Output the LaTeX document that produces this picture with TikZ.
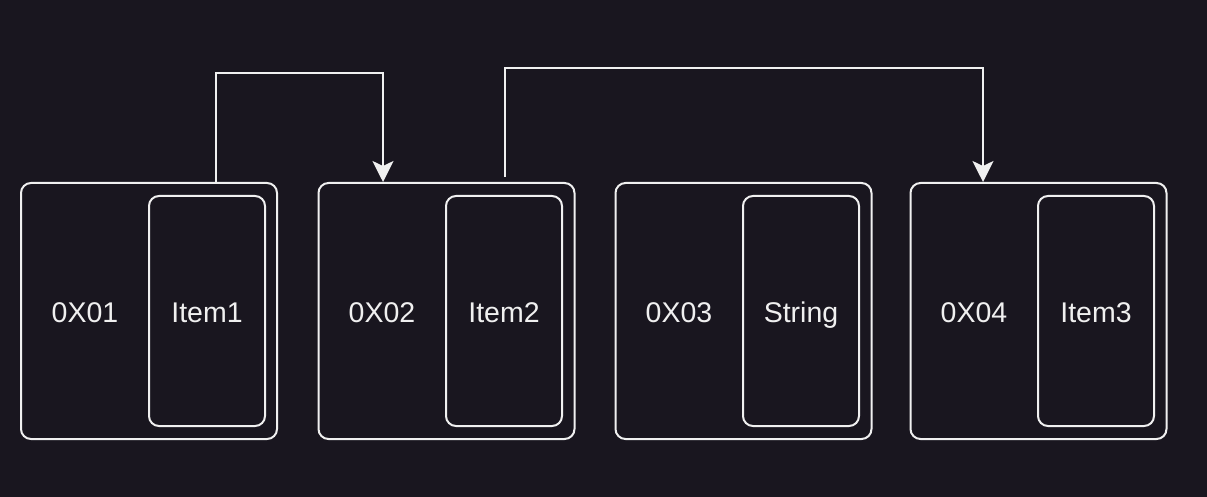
\documentclass[tikz,border=0pt]{standalone}
\usepackage{fontspec}
\setmainfont{Liberation Sans}
\usetikzlibrary{arrows.meta}
\definecolor{bg}{HTML}{19161F}
\definecolor{fg}{HTML}{F0F0F0}
\begin{document}
\begin{tikzpicture}[x=1pt,y=-1pt,
  outerbox/.style={draw=fg,line width=2pt,rounded corners=10pt,minimum width=256pt,minimum height=256pt,inner sep=0pt},
  innerbox/.style={draw=fg,line width=2pt,rounded corners=10pt,minimum width=116pt,minimum height=230pt,inner sep=0pt},
  lbl/.style={text=fg,font=\fontsize{28.5}{32}\selectfont,inner sep=0pt,anchor=base},
  arr/.style={draw=fg,line width=2pt,-{Stealth[length=21pt,width=21pt,inset=5pt]}}]
\fill[bg] (0,0) rectangle (1207,497);
\useasboundingbox (0,0) rectangle (1207,497);
% outer boxes
\node[outerbox] (b1) at (149,311) {};
\node[outerbox] (b2) at (446.5,311) {};
\node[outerbox] (b3) at (743.5,311) {};
\node[outerbox] (b4) at (1038.5,311) {};
% inner boxes
\node[innerbox] (i1) at (207,311) {};
\node[innerbox] (i2) at (504,311) {};
\node[innerbox] (i3) at (801,311) {};
\node[innerbox] (i4) at (1096,311) {};
% labels
\node[lbl] (a1) at (85,322) {0X01};
\node[lbl] (a2) at (382,322) {0X02};
\node[lbl] (a3) at (679,322) {0X03};
\node[lbl] (a4) at (974,322) {0X04};
\node[lbl] (n1) at (207,322) {Item1};
\node[lbl] (n2) at (504,322) {Item2};
\node[lbl] (n3) at (801,322) {String};
\node[lbl] (n4) at (1096,322) {Item3};
% connectors
\coordinate (s1) at (216,183);
\coordinate (t1) at (383,73);
\coordinate (s2) at (505,177);
\coordinate (t2) at (983,68);
\draw[arr] (s1) |- (t1) -- (b2.north -| t1);
\draw[arr] (s2) |- (t2) -- (b4.north -| t2);
\end{tikzpicture}
\end{document}
